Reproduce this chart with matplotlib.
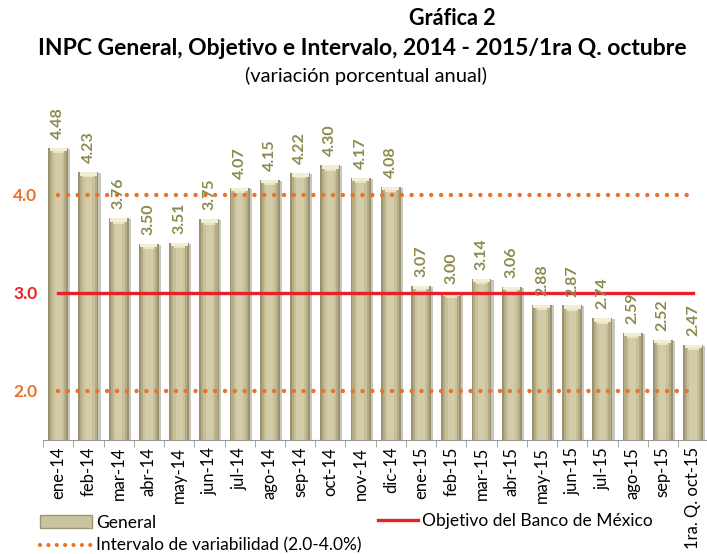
import numpy as np
import matplotlib.pyplot as plt
from matplotlib.patches import Patch
from matplotlib.lines import Line2D

plt.rcParams['font.family'] = ['Lato', 'DejaVu Sans']

meses = ['ene-14', 'feb-14', 'mar-14', 'abr-14', 'may-14', 'jun-14', 'jul-14',
         'ago-14', 'sep-14', 'oct-14', 'nov-14', 'dic-14', 'ene-15', 'feb-15',
         'mar-15', 'abr-15', 'may-15', 'jun-15', 'jul-15', 'ago-15', 'sep-15',
         '1ra. Q. oct-15']
general = [4.48, 4.23, 3.76, 3.50, 3.51, 3.75, 4.07, 4.15, 4.22, 4.30, 4.17,
           4.08, 3.07, 3.00, 3.14, 3.06, 2.88, 2.87, 2.74, 2.59, 2.52, 2.47]
objetivo = 3.0
intervalo = [2.0, 4.0]

naranja = '#E8732A'
rojo = '#E8202A'
oliva = '#8C8A4E'

x = np.arange(len(meses))
g = np.array(general)

fig = plt.figure(figsize=(7.07, 5.54), dpi=100)
ax = fig.add_axes([0.061, 0.206, 0.945, 0.602])

# sombra + cilindro (capas de bar con distinto ancho)
ax.bar(x + 0.07, g - 0.01, width=0.66, color='#C8C8C2', zorder=1)
ax.bar(x, g, width=0.66, color='#9A9270', zorder=2)
ax.bar(x, g, width=0.54, color='#B5AC84', zorder=2)
ax.bar(x, g, width=0.40, color='#C8C09B', zorder=2)
ax.bar(x, g, width=0.24, color='#D3CCA9', zorder=2)
# tapa clara arriba
ax.bar(x, 0.035, bottom=g - 0.035, width=0.56, color='#F2EED3', zorder=3)
ax.bar(x, 0.02, bottom=g - 0.055, width=0.36, color='#EAE4C2', zorder=3)

for xi, v in zip(x, general):
    ax.text(xi, v + 0.09, f'{v:.2f}', rotation=90, ha='center', va='bottom',
            fontsize=11.5, fontweight='bold', color=oliva, zorder=5)

ax.plot([x[0], x[-1]], [objetivo, objetivo], color=rojo, lw=2.4, zorder=4)
for lim in intervalo:
    ax.plot([x[0], x[-1]], [lim, lim], color=naranja, lw=3.2,
            linestyle=(0, (0.01, 2.2)), dash_capstyle='round', zorder=4)

ax.set_xlim(-0.5, 21.6)
ax.set_ylim(1.5, 4.9)
ax.set_yticks([2.0, 3.0, 4.0])
ax.set_yticklabels(['2.0', '3.0', '4.0'], fontsize=12.5, fontweight='bold')
for lab, c in zip(ax.get_yticklabels(), [naranja, rojo, naranja]):
    lab.set_color(c)
ax.tick_params(axis='y', length=0, pad=4)

ax.set_xticks(x)
ax.set_xticklabels(meses, rotation=90, fontsize=12)
ax.set_xticks(np.arange(len(meses)) - 0.5, minor=True)
ax.tick_params(axis='x', which='major', length=0, pad=5)
ax.tick_params(axis='x', which='minor', length=5, color='#999999')

for s in ['top', 'right', 'left']:
    ax.spines[s].set_visible(False)
ax.spines['bottom'].set_color('#999999')

fig.text(0.64, 0.967, 'Gráfica 2', ha='center', va='center', fontsize=15.5,
         fontweight='bold')
fig.text(0.513, 0.913, 'INPC General, Objetivo e Intervalo, 2014 - 2015/1ra Q. octubre',
         ha='center', va='center', fontsize=16.5, fontweight='bold')
fig.text(0.518, 0.862, '(variación porcentual anual)', ha='center', va='center',
         fontsize=14.5)

h_gen = Patch(facecolor='#CCC49E', edgecolor='#9E9672')
h_int = Line2D([], [], color=naranja, lw=3, linestyle=(0, (0.01, 2.0)),
               dash_capstyle='round')
h_obj = Line2D([], [], color=rojo, lw=2.4)

fig.legend([h_gen, h_int], ['General', 'Intervalo de variabilidad (2.0-4.0%)'],
           loc='lower left', bbox_to_anchor=(0.047, -0.012), borderaxespad=0,
           frameon=False, fontsize=12.5, handlelength=3.0, handletextpad=0.2,
           labelspacing=0.4)
fig.legend([h_obj], ['Objetivo del Banco de México'], loc='lower left',
           bbox_to_anchor=(0.525, 0.032), borderaxespad=0, frameon=False,
           fontsize=12.5, handlelength=2.3, handletextpad=0.2)

fig.savefig('out.png', dpi=100)
